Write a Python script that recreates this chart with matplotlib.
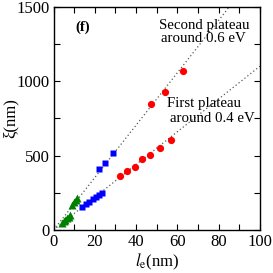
import matplotlib
matplotlib.use("Agg")
import matplotlib.pyplot as plt
import numpy as np
from matplotlib.ticker import MultipleLocator

plt.rcParams['font.family'] = ['Liberation Serif', 'DejaVu Serif']
plt.rcParams['mathtext.fontset'] = 'stix'

# Data
red_lower_x = [32.1, 35.8, 39.4, 42.8, 46.6, 51.6, 56.8]
red_lower_y = [363, 396, 425, 475, 502, 549, 604]
red_upper_x = [47.4, 54.2, 62.7]
red_upper_y = [846, 925, 1070]
blue_lower_x = [14.0, 15.8, 17.4, 19.0, 20.6, 22.0, 23.4]
blue_lower_y = [155, 172, 190, 205, 220, 236, 250]
blue_upper_x = [21.8, 24.9, 28.6]
blue_upper_y = [408, 448, 515]
green_lower_x = [4.2, 5.0, 5.8, 6.6, 7.4, 8.0]
green_lower_y = [48, 58, 68, 78, 88, 100]
green_upper_x = [9.0, 10.0, 10.8, 11.6]
green_upper_y = [168, 185, 200, 218]
slope_upper = 17.6
slope_lower = 11.0

fig = plt.figure(figsize=(2.73, 2.73), dpi=100)
ax = fig.add_axes([0.196, 0.1575, 0.756, 0.818])

xl = np.array([0, 100])
ax.plot(xl, slope_upper * xl, ls=(0, (1, 2)), color='0.35', lw=0.9, zorder=1)
ax.plot(xl, slope_lower * xl, ls=(0, (1, 2)), color='0.35', lw=0.9, zorder=1)

ax.plot(red_lower_x, red_lower_y, 'o', color='#ff0000', ms=5.2, mec='none', zorder=3)
ax.plot(red_upper_x, red_upper_y, 'o', color='#ff0000', ms=5.2, mec='none', zorder=3)
ax.plot(blue_lower_x, blue_lower_y, 's', color='#0000ff', ms=4.8, mec='none', zorder=3)
ax.plot(blue_upper_x, blue_upper_y, 's', color='#0000ff', ms=4.8, mec='none', zorder=3)
ax.plot(green_lower_x, green_lower_y, '^', color='#008000', ms=5.5, mec='none', zorder=3)
ax.plot(green_upper_x, green_upper_y, '^', color='#008000', ms=5.5, mec='none', zorder=3)

ax.set_xlim(0, 100)
ax.set_ylim(0, 1500)
ax.xaxis.set_major_locator(MultipleLocator(20))
ax.xaxis.set_minor_locator(MultipleLocator(10))
ax.yaxis.set_major_locator(MultipleLocator(500))
ax.yaxis.set_minor_locator(MultipleLocator(250))
ax.tick_params(which='both', direction='in', top=True, right=True, labelsize=12, pad=3)
ax.tick_params(which='major', length=4, width=0.8)
ax.tick_params(which='minor', length=4, width=0.8)
for s in ax.spines.values():
    s.set_linewidth(1.0)

ax.set_xlabel(r'$l_{\mathrm{e}}$(nm)', fontsize=12, labelpad=1)
ax.set_ylabel('ξ(nm)', fontsize=12)
ax.yaxis.set_label_coords(-0.17, 0.5)

fs = 10.7
ax.text(14.2, 1365, '(f)', fontsize=fs, fontweight='bold', ha='center', va='center')
ax.text(72.8, 1377, 'Second plateau', fontsize=fs, ha='center', va='center')
ax.text(72.8, 1283, 'around 0.6 eV', fontsize=fs, ha='center', va='center')
ax.text(73.0, 853, 'First plateau', fontsize=fs, ha='center', va='center')
ax.text(76.8, 752, 'around 0.4 eV', fontsize=fs, ha='center', va='center')

fig.savefig('out.png', dpi=100)
